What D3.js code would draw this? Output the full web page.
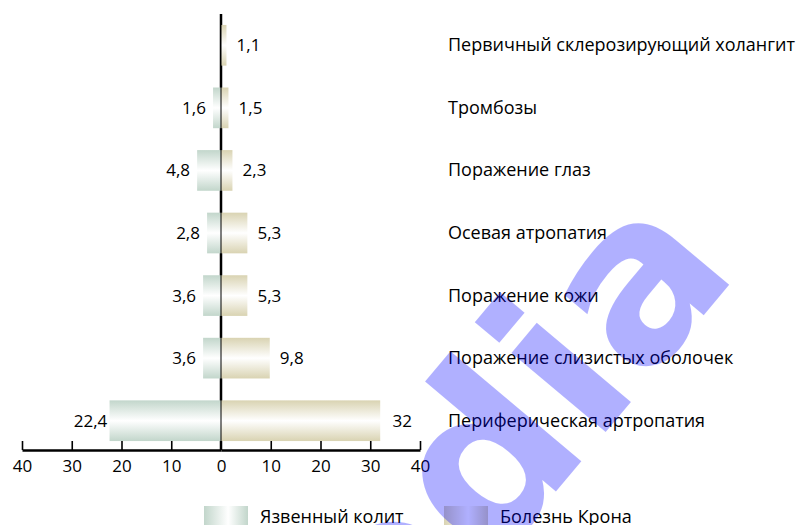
<!DOCTYPE html>
<html>
<head>
<meta charset="utf-8">
<script src="https://cdn.jsdelivr.net/npm/d3@7"></script>
<style>
  body { margin: 0; background: #fff; }
  text { font-family: "Open Sans", "Noto Sans", sans-serif; fill: #000; }
</style>
</head>
<body>
<svg id="chart" width="798" height="525"></svg>
<script>
var categories = ["Первичный склерозирующий холангит", "Тромбозы", "Поражение глаз",
    "Осевая атропатия", "Поражение кожи", "Поражение слизистых оболочек", "Периферическая артропатия"];
var colitis = [null, 1.6, 4.8, 2.8, 3.6, 3.6, 22.4];   // Язвенный колит (left)
var crohn = [1.1, 1.5, 2.3, 5.3, 5.3, 9.8, 32];        // Болезнь Крона (right)
var tickValues = [0, 10, 20, 30, 40];
var seriesNames = ["Язвенный колит", "Болезнь Крона"];

var width = 798, height = 525,
    zeroX = 221, axisY = 450, fontSize = 17, labelSize = 18;

var svg = d3.select("#chart");

var xLeft = d3.scaleLinear().domain([0, 40]).range([zeroX, 22]);
var xRight = d3.scaleLinear().domain([0, 40]).range([zeroX, 420]);

var y = d3.scaleBand()
    .domain(categories)
    .range([14, 452])
    .paddingInner(0.35)
    .paddingOuter(0.175);

var fmt = function(v) { return String(v).replace(".", ","); };

// gradients
var defs = svg.append("defs");
function vgrad(id, c) {
  var g = defs.append("linearGradient").attr("id", id)
      .attr("x1", 0).attr("y1", 0).attr("x2", 0).attr("y2", 1);
  g.append("stop").attr("offset", "0%").attr("stop-color", c);
  g.append("stop").attr("offset", "50%").attr("stop-color", "#ffffff");
  g.append("stop").attr("offset", "100%").attr("stop-color", c);
}
function hgrad(id, c) {
  var g = defs.append("linearGradient").attr("id", id)
      .attr("x1", 0).attr("y1", 0).attr("x2", 1).attr("y2", 0);
  g.append("stop").attr("offset", "0%").attr("stop-color", c);
  g.append("stop").attr("offset", "55%").attr("stop-color", "#ffffff");
  g.append("stop").attr("offset", "100%").attr("stop-color", c);
}
var colColor = "#c2d6cb", croColor = "#d9d3b2";
vgrad("gCol", colColor); vgrad("gCro", croColor);
hgrad("lCol", colColor); hgrad("lCro", croColor);

// thick vertical axis
svg.append("line")
    .attr("x1", zeroX).attr("x2", zeroX)
    .attr("y1", 14).attr("y2", axisY)
    .attr("stroke", "#000").attr("stroke-width", 2.5);

// bars
var rows = categories.map(function(c, i) { return {cat: c, left: colitis[i], right: crohn[i]}; });

svg.selectAll(".bar-left")
  .data(rows.filter(function(d) { return d.left != null; }))
  .enter().append("rect")
    .attr("class", "bar-left")
    .attr("x", function(d) { return xLeft(d.left); })
    .attr("y", function(d) { return y(d.cat); })
    .attr("width", function(d) { return zeroX - xLeft(d.left); })
    .attr("height", y.bandwidth())
    .attr("fill", "url(#gCol)");

svg.selectAll(".bar-right")
  .data(rows)
  .enter().append("rect")
    .attr("class", "bar-right")
    .attr("x", zeroX)
    .attr("y", function(d) { return y(d.cat); })
    .attr("width", function(d) { return xRight(d.right) - zeroX; })
    .attr("height", y.bandwidth())
    .attr("fill", "url(#gCro)");

// thin line over bars
svg.append("line")
    .attr("x1", zeroX).attr("x2", zeroX)
    .attr("y1", 14).attr("y2", axisY)
    .attr("stroke", "#000").attr("stroke-width", 1);

// value labels
svg.selectAll(".val-left")
  .data(rows.filter(function(d) { return d.left != null; }))
  .enter().append("text")
    .attr("x", function(d) { return xLeft(d.left) - 19; })
    .attr("y", function(d) { return y(d.cat) + y.bandwidth() / 2; })
    .attr("dy", "0.35em")
    .attr("text-anchor", "middle")
    .style("font-size", fontSize + "px")
    .text(function(d) { return fmt(d.left); });

svg.selectAll(".val-right")
  .data(rows)
  .enter().append("text")
    .attr("x", function(d) { return xRight(d.right) + 22; })
    .attr("y", function(d) { return y(d.cat) + y.bandwidth() / 2; })
    .attr("dy", "0.35em")
    .attr("text-anchor", "middle")
    .style("font-size", fontSize + "px")
    .text(function(d) { return fmt(d.right); });

// category labels
svg.selectAll(".cat")
  .data(categories)
  .enter().append("text")
    .attr("x", 448)
    .attr("y", function(d) { return y(d) + y.bandwidth() / 2; })
    .attr("dy", "0.33em")
    .style("font-size", labelSize + "px")
    .text(function(d) { return d; });

// horizontal axes
function styleAxis(g) {
  g.select(".domain").attr("stroke", "#000").attr("stroke-width", 2.5);
  g.selectAll(".tick line").attr("stroke", "#000").attr("stroke-width", 1.6);
  g.selectAll(".tick text").style("font-size", fontSize + "px")
      .style("font-family", "'Open Sans', 'Noto Sans', sans-serif");
}
svg.append("g")
    .attr("transform", "translate(0," + axisY + ")")
    .call(d3.axisBottom(xLeft).tickValues(tickValues.slice(1)).tickSizeInner(-9).tickSizeOuter(0).tickPadding(10))
    .call(styleAxis);
svg.append("g")
    .attr("transform", "translate(0," + axisY + ")")
    .call(d3.axisBottom(xRight).tickValues(tickValues).tickSizeInner(-9).tickSizeOuter(0).tickPadding(10))
    .call(styleAxis)
    .call(function(g) { g.selectAll(".tick").filter(function(d) { return d === 0; }).select("line").remove(); });

// legend
var legend = svg.append("g").attr("transform", "translate(0,506)");
var legendX = [204, 444];
seriesNames.forEach(function(name, i) {
  legend.append("rect")
      .attr("x", legendX[i]).attr("y", 0)
      .attr("width", 44).attr("height", 20)
      .attr("fill", i === 0 ? "url(#lCol)" : "url(#lCro)");
  legend.append("text")
      .attr("x", legendX[i] + 56).attr("y", 17)
      .style("font-size", labelSize + "px")
      .text(name);
});

// watermark
var wm = svg.append("g")
    .attr("transform", "translate(490,570) rotate(-50)");
["Wikipe", "dia"].forEach(function(t, i) {
  wm.append("text")
      .attr("text-anchor", i === 0 ? "end" : "start")
      .style("font-family", "'DejaVu Sans', sans-serif")
      .style("font-weight", "bold")
      .style("font-size", "225px")
      .style("fill", "#0000ff").style("fill-opacity", 0.31)
      .text(t);
});
</script>
</body>
</html>
